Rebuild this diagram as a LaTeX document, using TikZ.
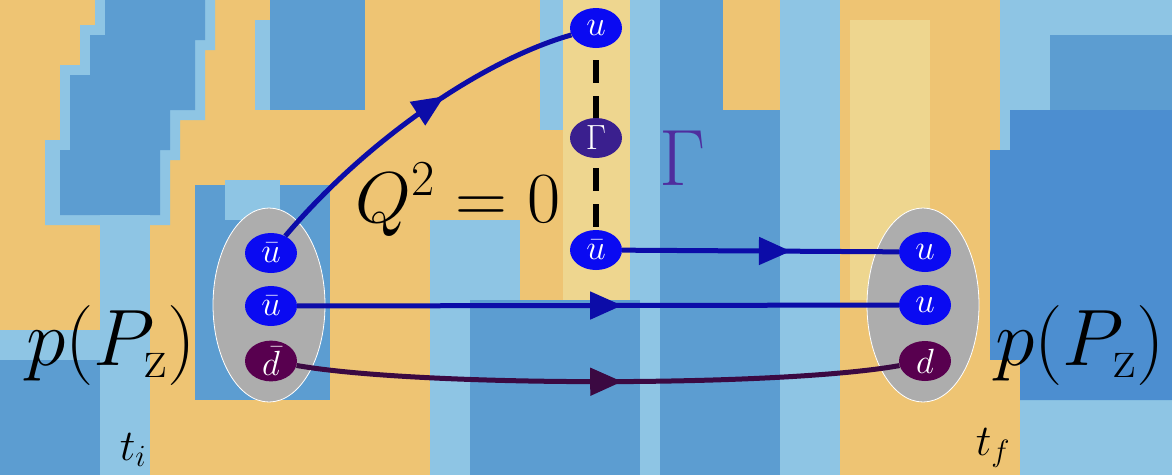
\documentclass[tikz,border=0pt]{standalone}
\usepackage{fix-cm}
\usepackage{amsmath}
\usepackage{tikz}
\usetikzlibrary{positioning,shapes.geometric,arrows.meta,decorations.markings}

\definecolor{bgorange}{HTML}{EEC473}
\definecolor{bgyellow}{HTML}{EED68F}
\definecolor{bgblue}{HTML}{5C9DD1}
\definecolor{bgdeep}{HTML}{4C8ED0}
\definecolor{bgsky}{HTML}{8EC5E4}
\definecolor{qblue}{HTML}{0A0AF2}
\definecolor{qpurple}{HTML}{58004F}
\definecolor{gpurple}{HTML}{3A1F8E}
\definecolor{lblue}{HTML}{0C0CA8}
\definecolor{lpurple}{HTML}{3B0942}
\definecolor{glabel}{HTML}{4F2D9E}

\begin{document}
\begin{tikzpicture}[x=1pt, y=-1pt,
    hadron/.style={ellipse, fill=black!32, draw=white, line width=0.8pt, minimum width=112pt, minimum height=194pt, inner sep=0pt},
    quark/.style={ellipse, fill=qblue, text=white, minimum width=52pt, minimum height=40pt, inner sep=0pt, font=\fontsize{35}{35}\selectfont},
    flow/.style={line width=5pt, lblue, postaction={decorate},
        decoration={markings, mark=at position #1 with {\arrow{Triangle[length=32pt,width=27pt]}}}},
    big/.style={anchor=base, font=\fontsize{80}{80}\selectfont},
]
  \useasboundingbox (0,0) rectangle (1172,475);

  % lattice background
  \fill[bgorange] (0,0) rectangle (1172,475);
  \fill[bgyellow] (563,0) rectangle (630,330);
  \fill[bgyellow] (850,20) rectangle (930,300);
  \fill[bgsky] (95,0) -- (215,0) -- (215,50) -- (205,50) -- (205,120) -- (180,120) -- (180,160) -- (170,160)
      -- (170,225) -- (45,225) -- (45,140) -- (60,140) -- (60,65) -- (80,65) -- (80,25) -- (95,25) -- cycle;
  \fill[bgblue] (105,0) -- (205,0) -- (205,40) -- (195,40) -- (195,110) -- (170,110) -- (170,150) -- (160,150)
      -- (160,215) -- (60,215) -- (60,150) -- (70,150) -- (70,75) -- (90,75) -- (90,35) -- (105,35) -- cycle;
  \fill[bgsky] (255,20) rectangle (275,110);
  \fill[bgblue] (270,0) rectangle (365,110);
  \fill[bgsky] (100,215) rectangle (150,475);
  \fill[bgsky] (0,330) rectangle (110,360);
  \fill[bgblue] (0,360) rectangle (100,475);
  \fill[bgblue] (195,185) rectangle (330,400);
  \fill[bgsky] (225,180) rectangle (280,220);
  \fill[bgsky] (540,0) rectangle (563,130);
  \fill[bgsky] (630,0) rectangle (660,475);
  \fill[bgblue] (660,0) rectangle (790,475);
  \fill[bgorange] (723,0) rectangle (790,110);
  \fill[bgsky] (430,220) rectangle (520,475);
  \fill[bgblue] (470,300) rectangle (640,475);
  \fill[bgsky] (780,0) rectangle (840,475);
  \fill[bgsky] (1000,0) rectangle (1172,475);
  \fill[bgblue] (1050,35) rectangle (1172,110);
  \fill[bgdeep] (1010,110) -- (1172,110) -- (1172,400) -- (990,400) -- (990,150) -- (1010,150) -- cycle;
  \fill[bgorange] (980,360) rectangle (1020,475);

  \node[hadron] (pL) at (269,305) {};
  \node[hadron] (pR) at (923,305) {};

  \node[quark] (ubA) at (271,253) {$\bar{u}$};
  \node[quark] (ubB) at (271,306) {$\bar{u}$};
  \node[quark, fill=qpurple] (dbC) at (271,361) {$\bar{d}$};

  \node[quark] (uA) at (925,252) {$u$};
  \node[quark] (uB) at (925,305) {$u$};
  \node[quark, fill=qpurple] (dC) at (925,361) {$d$};

  \node[quark] (uT) at (596,28) {$u$};
  \node[quark] (ubM) at (596,250) {$\bar{u}$};
  \draw[line width=6pt, dash pattern=on 23pt off 13pt, dash phase=24pt] (uT) -- (ubM);
  \node[quark, fill=gpurple] (gam) at (596,138) {$\Gamma$};

  \draw[flow=0.6] (ubA) .. controls (369,137) and (486,59) .. (uT);
  \draw[flow=0.61] (ubM) -- (uA);
  \draw[flow=0.54] (ubB) -- (uB);
  \draw[flow=0.54, lpurple] (dbC) .. controls (420,387) and (780,387) .. (dC);

  \node[big] (pzL) at (111,365) {$p(P_{\mathrm{z}})$};
  \node[big] (pzR) at (1080,365) {$p(P_{\mathrm{z}})$};
  \node[anchor=base, font=\fontsize{72}{72}\selectfont] (qsq) at (458,222) {$Q^2=0$};
  \node[big, text=glabel] (gl) at (683,185) {$\Gamma$};
  \node[anchor=base, font=\fontsize{44}{44}\selectfont] (ti) at (133,460) {$t_i$};
  \node[anchor=base, font=\fontsize{44}{44}\selectfont] (tf) at (993,455) {$t_f$};
\end{tikzpicture}
\end{document}
